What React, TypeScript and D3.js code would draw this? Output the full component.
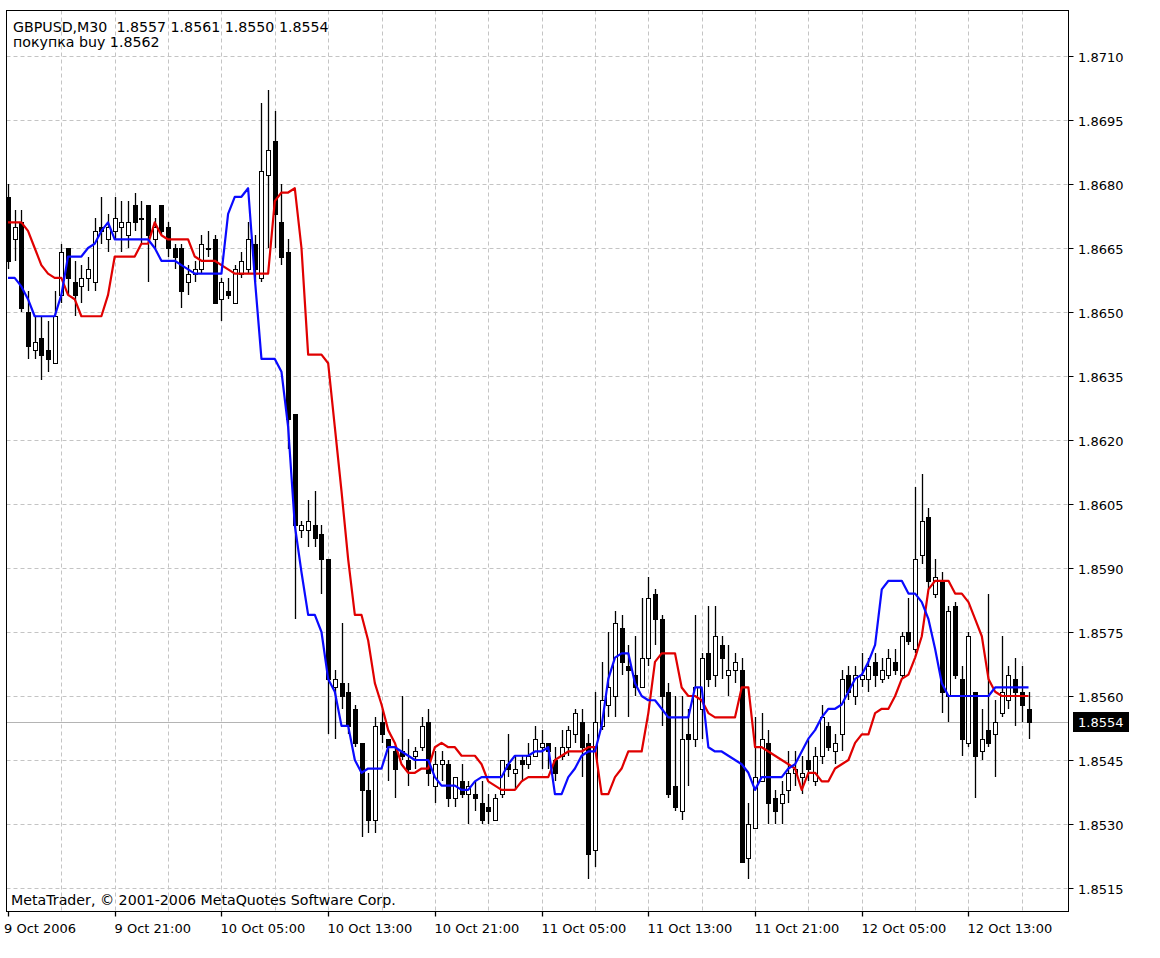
import React, { useEffect, useRef } from 'react';
import * as d3 from 'd3';

// GBPUSD M30, 9 Oct 2006 13:00 .. 12 Oct 2006 17:30 (bar index 0..153)
const opens = [
  1.8677, 1.8667, 1.8671, 1.8650, 1.8641, 1.8644, 1.8641, 1.8638, 1.8654, 1.8665,
  1.8657, 1.8656, 1.8658, 1.8657, 1.8670, 1.8667, 1.8669, 1.8670, 1.8668, 1.8675,
  1.8672, 1.8675, 1.8667, 1.8675, 1.8670, 1.8665, 1.8665, 1.8657, 1.8659, 1.8660,
  1.8665, 1.8667, 1.8653, 1.8655, 1.8652, 1.8659, 1.8660, 1.8666, 1.8658, 1.8682,
  1.8690, 1.8671, 1.8664, 1.8626, 1.8599, 1.8599, 1.8600, 1.8598, 1.8592, 1.8562,
  1.8563, 1.8561, 1.8557, 1.8549, 1.8538, 1.8531, 1.8554, 1.8550, 1.8547, 1.8547,
  1.8545, 1.8546, 1.8548, 1.8554, 1.8539, 1.8544, 1.8544, 1.8536, 1.8540, 1.8537,
  1.8537, 1.8535, 1.8534, 1.8531, 1.8537, 1.8544, 1.8542, 1.8545, 1.8544, 1.8546,
  1.8548, 1.8549, 1.8545, 1.8546, 1.8548, 1.8551, 1.8554, 1.8549, 1.8524, 1.8553,
  1.8558, 1.8560, 1.8576, 1.8567, 1.8565, 1.8562, 1.8569, 1.8584, 1.8578, 1.8561,
  1.8539, 1.8533, 1.8551, 1.8550, 1.8557, 1.8570, 1.8565, 1.8572, 1.8565, 1.8566,
  1.8566, 1.8522, 1.8529, 1.8540, 1.8549, 1.8536, 1.8535, 1.8538, 1.8542, 1.8541,
  1.8545, 1.8540, 1.8546, 1.8553, 1.8547, 1.8551, 1.8565, 1.8560, 1.8564, 1.8564,
  1.8568, 1.8564, 1.8565, 1.8568, 1.8565, 1.8575, 1.8571, 1.8593, 1.8602, 1.8584,
  1.8587, 1.8560, 1.8581, 1.8564, 1.8549, 1.8561, 1.8547, 1.8552, 1.8551, 1.8556,
  1.8559, 1.8564, 1.8561, 1.8557
];
const highs = [
  1.8680, 1.8674, 1.8674, 1.8655, 1.8649, 1.8649, 1.8648, 1.8655, 1.8666, 1.8665,
  1.8662, 1.8661, 1.8663, 1.8672, 1.8677, 1.8673, 1.8677, 1.8676, 1.8676, 1.8678,
  1.8676, 1.8675, 1.8672, 1.8675, 1.8671, 1.8666, 1.8666, 1.8661, 1.8662, 1.8668,
  1.8669, 1.8668, 1.8658, 1.8658, 1.8661, 1.8664, 1.8671, 1.8668, 1.8699, 1.8702,
  1.8697, 1.8680, 1.8667, 1.8626, 1.8601, 1.8606, 1.8608, 1.8600, 1.8592, 1.8566,
  1.8577, 1.8563, 1.8558, 1.8549, 1.8542, 1.8555, 1.8557, 1.8550, 1.8548, 1.8560,
  1.8550, 1.8548, 1.8555, 1.8557, 1.8547, 1.8547, 1.8545, 1.8541, 1.8544, 1.8540,
  1.8540, 1.8540, 1.8537, 1.8537, 1.8545, 1.8551, 1.8546, 1.8546, 1.8549, 1.8553,
  1.8552, 1.8549, 1.8548, 1.8552, 1.8553, 1.8557, 1.8557, 1.8551, 1.8561, 1.8568,
  1.8575, 1.8580, 1.8579, 1.8572, 1.8574, 1.8583, 1.8588, 1.8585, 1.8579, 1.8563,
  1.8560, 1.8560, 1.8557, 1.8579, 1.8570, 1.8581, 1.8581, 1.8574, 1.8572, 1.8570,
  1.8569, 1.8535, 1.8555, 1.8556, 1.8552, 1.8538, 1.8540, 1.8547, 1.8547, 1.8546,
  1.8550, 1.8548, 1.8558, 1.8554, 1.8551, 1.8566, 1.8567, 1.8567, 1.8570, 1.8569,
  1.8570, 1.8569, 1.8571, 1.8571, 1.8575, 1.8583, 1.8609, 1.8612, 1.8604, 1.8592,
  1.8589, 1.8581, 1.8582, 1.8567, 1.8575, 1.8561, 1.8557, 1.8584, 1.8559, 1.8574,
  1.8567, 1.8569, 1.8567, 1.8561
];
const lows = [
  1.8660, 1.8662, 1.8650, 1.8639, 1.8639, 1.8634, 1.8636, 1.8638, 1.8652, 1.8654,
  1.8649, 1.8652, 1.8655, 1.8655, 1.8666, 1.8664, 1.8667, 1.8664, 1.8665, 1.8669,
  1.8666, 1.8657, 1.8665, 1.8668, 1.8663, 1.8660, 1.8651, 1.8654, 1.8657, 1.8659,
  1.8663, 1.8652, 1.8648, 1.8653, 1.8652, 1.8658, 1.8659, 1.8657, 1.8657, 1.8665,
  1.8665, 1.8661, 1.8618, 1.8578, 1.8597, 1.8595, 1.8595, 1.8584, 1.8551, 1.8550,
  1.8557, 1.8551, 1.8548, 1.8527, 1.8528, 1.8528, 1.8549, 1.8540, 1.8536, 1.8545,
  1.8539, 1.8543, 1.8547, 1.8539, 1.8535, 1.8540, 1.8534, 1.8534, 1.8536, 1.8530,
  1.8533, 1.8530, 1.8530, 1.8531, 1.8536, 1.8541, 1.8538, 1.8540, 1.8543, 1.8546,
  1.8543, 1.8543, 1.8540, 1.8545, 1.8546, 1.8549, 1.8541, 1.8517, 1.8520, 1.8552,
  1.8555, 1.8555, 1.8565, 1.8555, 1.8560, 1.8562, 1.8567, 1.8572, 1.8553, 1.8536,
  1.8533, 1.8531, 1.8539, 1.8548, 1.8550, 1.8562, 1.8562, 1.8564, 1.8560, 1.8563,
  1.8521, 1.8517, 1.8529, 1.8540, 1.8530, 1.8530, 1.8530, 1.8535, 1.8539, 1.8537,
  1.8540, 1.8539, 1.8544, 1.8547, 1.8544, 1.8547, 1.8559, 1.8558, 1.8562, 1.8561,
  1.8562, 1.8563, 1.8564, 1.8565, 1.8564, 1.8572, 1.8570, 1.8591, 1.8585, 1.8583,
  1.8556, 1.8554, 1.8564, 1.8546, 1.8548, 1.8536, 1.8545, 1.8548, 1.8541, 1.8555,
  1.8557, 1.8553, 1.8554, 1.8550
];
const closes = [
  1.8662, 1.8670, 1.8651, 1.8642, 1.8643, 1.8640, 1.8639, 1.8649, 1.8664, 1.8658,
  1.8654, 1.8658, 1.8660, 1.8669, 1.8669, 1.8670, 1.8672, 1.8671, 1.8671, 1.8671,
  1.8672, 1.8668, 1.8670, 1.8669, 1.8665, 1.8663, 1.8655, 1.8659, 1.8660, 1.8666,
  1.8665, 1.8652, 1.8657, 1.8654, 1.8660, 1.8662, 1.8667, 1.8660, 1.8683, 1.8688,
  1.8673, 1.8663, 1.8625, 1.8600, 1.8600, 1.8601, 1.8597, 1.8592, 1.8564, 1.8564,
  1.8560, 1.8553, 1.8549, 1.8538, 1.8531, 1.8553, 1.8551, 1.8548, 1.8543, 1.8546,
  1.8543, 1.8547, 1.8553, 1.8542, 1.8544, 1.8545, 1.8536, 1.8541, 1.8537, 1.8539,
  1.8536, 1.8531, 1.8533, 1.8536, 1.8545, 1.8543, 1.8543, 1.8544, 1.8546, 1.8550,
  1.8549, 1.8547, 1.8542, 1.8548, 1.8552, 1.8556, 1.8548, 1.8523, 1.8554, 1.8559,
  1.8562, 1.8577, 1.8568, 1.8566, 1.8562, 1.8569, 1.8583, 1.8578, 1.8560, 1.8537,
  1.8534, 1.8550, 1.8550, 1.8562, 1.8569, 1.8564, 1.8574, 1.8569, 1.8566, 1.8568,
  1.8521, 1.8530, 1.8541, 1.8550, 1.8535, 1.8533, 1.8537, 1.8542, 1.8543, 1.8542,
  1.8543, 1.8546, 1.8555, 1.8548, 1.8549, 1.8564, 1.8561, 1.8565, 1.8565, 1.8567,
  1.8565, 1.8566, 1.8569, 1.8566, 1.8574, 1.8573, 1.8592, 1.8601, 1.8587, 1.8588,
  1.8561, 1.8580, 1.8565, 1.8550, 1.8574, 1.8546, 1.8550, 1.8549, 1.8554, 1.8561,
  1.8565, 1.8561, 1.8558, 1.8554
];

// blue indicator line
const blueLine = [
  1.8658, 1.8658, 1.8656, 1.8653, 1.8649, 1.8649, 1.8649, 1.8649, 1.8654, 1.8663,
  1.8663, 1.8663, 1.8665, 1.8666, 1.8669, 1.8671, 1.8667, 1.8667, 1.8667, 1.8667,
  1.8667, 1.8667, 1.8665, 1.8662, 1.8662, 1.8662, 1.8661, 1.8660, 1.8659, 1.8659,
  1.8659, 1.8659, 1.8659, 1.8673, 1.8677, 1.8677, 1.8679, 1.8658, 1.8639, 1.8639,
  1.8639, 1.8636, 1.8623, 1.8600, 1.8589, 1.8579, 1.8579, 1.8575, 1.8564, 1.8561,
  1.8553, 1.8553, 1.8545, 1.8542, 1.8543, 1.8543, 1.8543, 1.8548, 1.8548, 1.8547,
  1.8546, 1.8545, 1.8545, 1.8545, 1.8541, 1.8539, 1.8539, 1.8539, 1.8538, 1.8538,
  1.8540, 1.8541, 1.8541, 1.8541, 1.8541, 1.8544, 1.8546, 1.8546, 1.8546, 1.8547,
  1.8547, 1.8548, 1.8537, 1.8537, 1.8541, 1.8543, 1.8546, 1.8547, 1.8547, 1.8553,
  1.8564, 1.8569, 1.8570, 1.8570, 1.8563, 1.8560, 1.8559, 1.8559, 1.8557, 1.8555,
  1.8555, 1.8555, 1.8555, 1.8562, 1.8562, 1.8548, 1.8547, 1.8547, 1.8546, 1.8545,
  1.8544, 1.8542, 1.8538, 1.8541, 1.8541, 1.8541, 1.8541, 1.8543, 1.8544, 1.8547,
  1.8550, 1.8552, 1.8555, 1.8557, 1.8557, 1.8558, 1.8561, 1.8564, 1.8565, 1.8568,
  1.8572, 1.8585, 1.8587, 1.8587, 1.8587, 1.8584, 1.8584, 1.8582, 1.8578, 1.8571,
  1.8563, 1.8560, 1.8560, 1.8560, 1.8560, 1.8560, 1.8560, 1.8560, 1.8562, 1.8562,
  1.8562, 1.8562, 1.8562, 1.8562
];

// red indicator line
const redLine = [
  1.8671, 1.8671, 1.8671, 1.8669, 1.8665, 1.8661, 1.8659, 1.8658, 1.8658, 1.8654,
  1.8653, 1.8649, 1.8649, 1.8649, 1.8649, 1.8654, 1.8663, 1.8663, 1.8663, 1.8663,
  1.8666, 1.8666, 1.8671, 1.8668, 1.8667, 1.8667, 1.8667, 1.8667, 1.8663, 1.8662,
  1.8662, 1.8662, 1.8661, 1.8660, 1.8659, 1.8659, 1.8659, 1.8659, 1.8659, 1.8659,
  1.8676, 1.8678, 1.8678, 1.8679, 1.8665, 1.8640, 1.8640, 1.8640, 1.8638, 1.8623,
  1.8608, 1.8592, 1.8579, 1.8579, 1.8573, 1.8563, 1.8558, 1.8552, 1.8549, 1.8544,
  1.8542, 1.8542, 1.8543, 1.8543, 1.8548, 1.8549, 1.8548, 1.8548, 1.8546, 1.8546,
  1.8546, 1.8544, 1.8540, 1.8539, 1.8538, 1.8538, 1.8538, 1.8540, 1.8541, 1.8541,
  1.8541, 1.8541, 1.8545, 1.8546, 1.8547, 1.8547, 1.8547, 1.8548, 1.8548, 1.8537,
  1.8537, 1.8541, 1.8543, 1.8547, 1.8547, 1.8547, 1.8556, 1.8568, 1.8570, 1.8570,
  1.8570, 1.8562, 1.8560, 1.8560, 1.8559, 1.8556, 1.8555, 1.8555, 1.8555, 1.8555,
  1.8562, 1.8562, 1.8548, 1.8548, 1.8547, 1.8546, 1.8545, 1.8544, 1.8543, 1.8538,
  1.8542, 1.8542, 1.8540, 1.8540, 1.8543, 1.8544, 1.8545, 1.8549, 1.8551, 1.8551,
  1.8556, 1.8557, 1.8557, 1.8560, 1.8564, 1.8565, 1.8569, 1.8574, 1.8585, 1.8587,
  1.8587, 1.8587, 1.8584, 1.8584, 1.8582, 1.8578, 1.8574, 1.8564, 1.8561, 1.8560,
  1.8560, 1.8560, 1.8560, 1.8560
];

const timeLabels = [
  '9 Oct 2006', '9 Oct 21:00', '10 Oct 05:00', '10 Oct 13:00', '10 Oct 21:00',
  '11 Oct 05:00', '11 Oct 13:00', '11 Oct 21:00', '12 Oct 05:00', '12 Oct 13:00'
];
const timeLabelBars = [0, 16, 32, 48, 64, 80, 96, 112, 128, 144];

const priceTicks = [
  1.8515, 1.8530, 1.8545, 1.8560, 1.8575, 1.8590, 1.8605,
  1.8620, 1.8635, 1.8650, 1.8665, 1.8680, 1.8695, 1.8710
];

const symbolText = 'GBPUSD,M30  1.8557 1.8561 1.8550 1.8554';
const buyText = 'покупка buy 1.8562';
const copyrightText = 'MetaTrader, © 2001-2006 MetaQuotes Software Corp.';
const bidPrice = 1.8554;

const FONT = "Tahoma, 'DejaVu Sans', sans-serif";

function App() {
  const ref = useRef<SVGSVGElement>(null);

  useEffect(() => {
    if (!ref.current) return;

    const width = 1160, height = 958;
    // plot frame
    const frame = { left: 6.5, right: 1068.5, top: 10.5, bottom: 911.5 };

    const svg = d3.select(ref.current);
    svg.selectAll('*').remove();

    const x = d3.scaleLinear()
      .domain([0, 153])
      .range([8, 8 + 153 * 6.67]);

    const y = d3.scaleLinear()
      .domain([1.8515, 1.8710])
      .range([888, 56]);

    const px = (v: number) => Math.round(v) + 0.5;

    svg.append('rect')
      .attr('width', width).attr('height', height)
      .attr('fill', '#fff');

    svg.append('defs').append('clipPath').attr('id', 'plot-clip')
      .append('rect')
      .attr('x', frame.left + 0.5).attr('y', frame.top + 0.5)
      .attr('width', frame.right - frame.left - 1)
      .attr('height', frame.bottom - frame.top - 1);

    // grid
    const grid = svg.append('g')
      .attr('stroke', '#c4c4c4')
      .attr('stroke-dasharray', '4,3')
      .attr('stroke-width', 1);

    priceTicks.forEach(p => {
      grid.append('line')
        .attr('x1', frame.left).attr('x2', frame.right)
        .attr('y1', px(y(p))).attr('y2', px(y(p)));
    });

    d3.range(8, 154, 8).forEach(b => {
      grid.append('line')
        .attr('x1', px(x(b))).attr('x2', px(x(b)))
        .attr('y1', frame.top).attr('y2', frame.bottom);
    });

    // bid line
    svg.append('line')
      .attr('x1', frame.left).attr('x2', frame.right)
      .attr('y1', px(y(bidPrice))).attr('y2', px(y(bidPrice)))
      .attr('stroke', '#b4b4b4')
      .attr('stroke-width', 1);

    const plot = svg.append('g').attr('clip-path', 'url(#plot-clip)');

    // candles
    const candles = opens.map((o, i) => ({
      i, o, h: highs[i], l: lows[i], c: closes[i]
    }));

    const cg = plot.append('g');
    candles.forEach(d => {
      const cx = px(x(d.i));
      cg.append('line')
        .attr('x1', cx).attr('x2', cx)
        .attr('y1', Math.round(y(d.h))).attr('y2', Math.round(y(d.l)))
        .attr('stroke', '#000')
        .attr('stroke-width', 1.3);
      const top = Math.round(y(Math.max(d.o, d.c)));
      const bot = Math.round(y(Math.min(d.o, d.c)));
      cg.append('rect')
        .attr('x', cx - 2).attr('y', top + 0.5)
        .attr('width', 4).attr('height', Math.max(bot - top, 1))
        .attr('fill', d.c >= d.o ? '#fff' : '#000')
        .attr('stroke', '#000')
        .attr('stroke-width', 1);
    });

    // indicator lines
    const line = d3.line<number>()
      .x((d, i) => x(i))
      .y(d => y(d));

    plot.append('path')
      .datum(redLine)
      .attr('fill', 'none')
      .attr('stroke', '#e00000')
      .attr('stroke-width', 2.2)
      .attr('stroke-linejoin', 'round')
      .attr('d', line);

    plot.append('path')
      .datum(blueLine)
      .attr('fill', 'none')
      .attr('stroke', '#0a0aff')
      .attr('stroke-width', 2.2)
      .attr('stroke-linejoin', 'round')
      .attr('d', line);

    // frame
    svg.append('rect')
      .attr('x', frame.left).attr('y', frame.top)
      .attr('width', frame.right - frame.left)
      .attr('height', frame.bottom - frame.top)
      .attr('fill', 'none')
      .attr('stroke', '#000')
      .attr('stroke-width', 1);

    // price axis (right)
    const yAxis = svg.append('g');
    priceTicks.forEach(p => {
      const ty = px(y(p));
      yAxis.append('line')
        .attr('x1', frame.right).attr('x2', frame.right + 5)
        .attr('y1', ty).attr('y2', ty)
        .attr('stroke', '#000');
      yAxis.append('text')
        .attr('x', 1078).attr('y', ty + 5)
        .attr('font-family', FONT)
        .attr('font-size', 13)
        .attr('fill', '#000')
        .text(p.toFixed(4));
    });

    // bid label
    const by = y(bidPrice);
    svg.append('rect')
      .attr('x', 1073).attr('y', Math.round(by) - 10)
      .attr('width', 56).attr('height', 20)
      .attr('fill', '#000');
    svg.append('text')
      .attr('x', 1078).attr('y', Math.round(by) + 5)
      .attr('font-family', FONT)
      .attr('font-size', 13)
      .attr('fill', '#fff')
      .text(bidPrice.toFixed(4));

    // time axis (bottom)
    const xAxis = svg.append('g');
    timeLabelBars.forEach((b, k) => {
      const tx = px(x(b));
      xAxis.append('line')
        .attr('x1', tx).attr('x2', tx)
        .attr('y1', frame.bottom).attr('y2', frame.bottom + 5)
        .attr('stroke', '#000')
        .attr('stroke-width', 1.3);
      xAxis.append('text')
        .attr('x', k === 0 ? 4 : tx - 1).attr('y', 933)
        .attr('font-family', FONT)
        .attr('font-size', 13)
        .attr('fill', '#000')
        .text(timeLabels[k]);
    });

    // header and footer texts
    svg.append('text')
      .attr('x', 13).attr('y', 32)
      .attr('font-family', FONT).attr('font-size', 14.2)
      .attr('fill', '#000')
      .attr('xml:space', 'preserve')
      .style('white-space', 'pre')
      .text(symbolText);
    svg.append('text')
      .attr('x', 13).attr('y', 47)
      .attr('font-family', FONT).attr('font-size', 14.2)
      .attr('fill', '#000')
      .text(buyText);
    svg.append('text')
      .attr('x', 11).attr('y', 905)
      .attr('font-family', FONT).attr('font-size', 14.2)
      .attr('fill', '#000')
      .text(copyrightText);
  }, []);

  return (
    <div style={{ position: 'absolute', left: 0, top: 0 }}>
      <svg ref={ref} width={1160} height={958} style={{ display: 'block' }} />
    </div>
  );
}

export default App;
